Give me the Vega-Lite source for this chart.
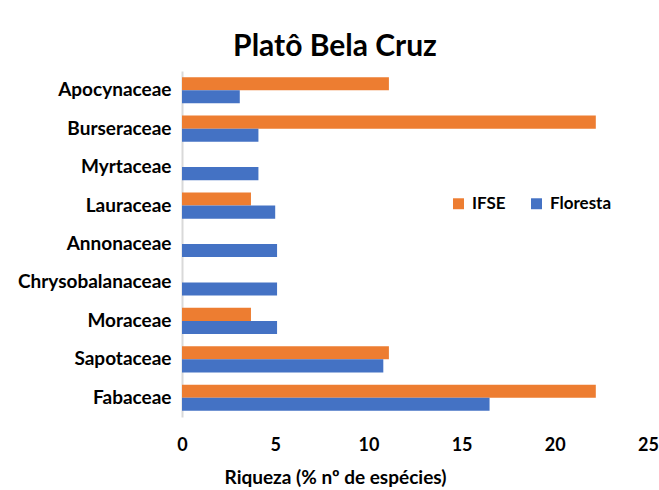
{
  "$schema": "https://vega.github.io/schema/vega-lite/v6.json",
  "width": 466,
  "height": 346,
  "autosize": {"type": "none"},
  "padding": {"left": 182, "top": 71, "right": 11, "bottom": 73},
  "background": "white",
  "title": {
    "text": "Platô Bela Cruz",
    "anchor": "middle",
    "frame": "group",
    "dx": -80,
    "offset": -15,
    "baseline": "alphabetic",
    "font": "Lato",
    "fontSize": 30,
    "fontWeight": "bold",
    "color": "#000000"
  },
  "data": {
    "values": [
      {"familia": "Apocynaceae", "serie": "IFSE", "valor": 11.1},
      {"familia": "Apocynaceae", "serie": "Floresta", "valor": 3.1},
      {"familia": "Burseraceae", "serie": "IFSE", "valor": 22.2},
      {"familia": "Burseraceae", "serie": "Floresta", "valor": 4.1},
      {"familia": "Myrtaceae", "serie": "IFSE", "valor": 0},
      {"familia": "Myrtaceae", "serie": "Floresta", "valor": 4.1},
      {"familia": "Lauraceae", "serie": "IFSE", "valor": 3.7},
      {"familia": "Lauraceae", "serie": "Floresta", "valor": 5.0},
      {"familia": "Annonaceae", "serie": "IFSE", "valor": 0},
      {"familia": "Annonaceae", "serie": "Floresta", "valor": 5.1},
      {"familia": "Chrysobalanaceae", "serie": "IFSE", "valor": 0},
      {"familia": "Chrysobalanaceae", "serie": "Floresta", "valor": 5.1},
      {"familia": "Moraceae", "serie": "IFSE", "valor": 3.7},
      {"familia": "Moraceae", "serie": "Floresta", "valor": 5.1},
      {"familia": "Sapotaceae", "serie": "IFSE", "valor": 11.1},
      {"familia": "Sapotaceae", "serie": "Floresta", "valor": 10.8},
      {"familia": "Fabaceae", "serie": "IFSE", "valor": 22.2},
      {"familia": "Fabaceae", "serie": "Floresta", "valor": 16.5}
    ]
  },
  "config": {
    "view": {"stroke": null},
    "font": "Lato"
  },
  "mark": {"type": "bar"},
  "encoding": {
    "y": {
      "field": "familia",
      "type": "nominal",
      "sort": ["Apocynaceae", "Burseraceae", "Myrtaceae", "Lauraceae", "Annonaceae", "Chrysobalanaceae", "Moraceae", "Sapotaceae", "Fabaceae"],
      "scale": {"paddingInner": 0.32, "paddingOuter": 0.16},
      "axis": {
        "title": null,
        "ticks": false,
        "labelFont": "Lato",
        "labelFontSize": 19,
        "labelFontWeight": "bold",
        "labelColor": "#000000",
        "labelPadding": 11,
        "domainColor": "#d9d9d9",
        "domainWidth": 2
      }
    },
    "yOffset": {
      "field": "serie",
      "type": "nominal",
      "sort": ["IFSE", "Floresta"]
    },
    "x": {
      "field": "valor",
      "type": "quantitative",
      "scale": {"domain": [0, 25]},
      "axis": {
        "values": [0, 5, 10, 15, 20, 25],
        "grid": false,
        "domain": false,
        "ticks": false,
        "labelFlush": false,
        "labelFont": "Lato",
        "labelFontSize": 18,
        "labelFontWeight": "bold",
        "labelColor": "#000000",
        "labelPadding": 19,
        "title": "Riqueza (% nº de espécies)",
        "titleFont": "Lato",
        "titleFontSize": 19,
        "titleFontWeight": "bold",
        "titleColor": "#000000",
        "titleX": 153,
        "titleY": 66,
        "titleAnchor": "middle",
        "titleBaseline": "alphabetic"
      }
    },
    "color": {
      "field": "serie",
      "type": "nominal",
      "scale": {"domain": ["IFSE", "Floresta"], "range": ["#ED7D31", "#4472C4"]},
      "legend": {
        "title": null,
        "orient": "none",
        "direction": "horizontal",
        "legendX": 268,
        "legendY": 124,
        "symbolType": "square",
        "symbolSize": 120,
        "symbolStrokeWidth": 0,
        "labelFont": "Lato",
        "labelFontSize": 17,
        "labelFontWeight": "bold",
        "labelColor": "#000000",
        "labelOffset": 5,
        "columnPadding": 22
      }
    }
  }
}
